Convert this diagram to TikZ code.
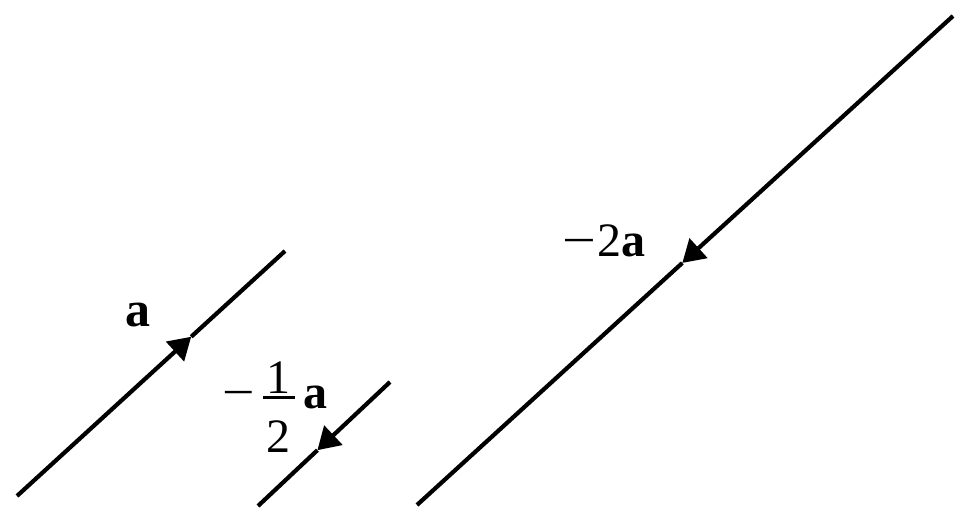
\documentclass[tikz,border=0pt]{standalone}
\usepackage{fontspec}
\setmainfont{Liberation Serif}
\usetikzlibrary{arrows.meta,calc}
\newcommand{\wideminus}{\scalebox{1.25}[1]{−}}
\tikzset{
  vec/.style={line width=4.2pt, black},
  tipped/.style={vec, -{Triangle[length=22pt,width=26pt]}},
  lbl/.style={inner sep=0pt, anchor=base, black}
}
\begin{document}
\begin{tikzpicture}[x=1pt,y=-1pt]
\useasboundingbox (0,0) rectangle (976,510);
% vector a
\coordinate (a1) at (17,496);
\coordinate (a2) at (285,251);
\coordinate (am) at ($(a1)!0.65!(a2)$);
% vector -1/2 a
\coordinate (h1) at (390,382);
\coordinate (h2) at (258,506);
\coordinate (hm) at ($(h1)!0.55!(h2)$);
% vector -2a
\coordinate (d1) at (953,16);
\coordinate (d2) at (417,505);
\coordinate (dm) at ($(d1)!0.505!(d2)$);
\draw[tipped] (a1) -- (am);
\draw[vec] (am) -- (a2);
\draw[tipped] (h1) -- (hm);
\draw[vec] (hm) -- (h2);
\draw[tipped] (d1) -- (dm);
\draw[vec] (dm) -- (d2);
% labels
\node[lbl, font=\fontsize{50}{56}\selectfont\bfseries] (la) at (138,326) {a};
\node[lbl, font=\fontsize{48}{54}\selectfont] (ld) at (604,257) {\wideminus\kern1pt2\textbf{a}};
\node[lbl, font=\fontsize{48}{54}\selectfont] (hminus) at (238.5,408) {\scalebox{1.2}[1]{−}};
\node[lbl, font=\fontsize{48}{54}\selectfont] (hnum) at (278,393) {1};
\coordinate (fb1) at (263,397);
\coordinate (fb2) at (295,397);
\draw[line width=3pt] (fb1) -- (fb2);
\node[lbl, font=\fontsize{48}{54}\selectfont] (hden) at (278,452) {2};
\node[lbl, font=\fontsize{48}{54}\selectfont\bfseries] (ha) at (315,408) {a};
\end{tikzpicture}
\end{document}
